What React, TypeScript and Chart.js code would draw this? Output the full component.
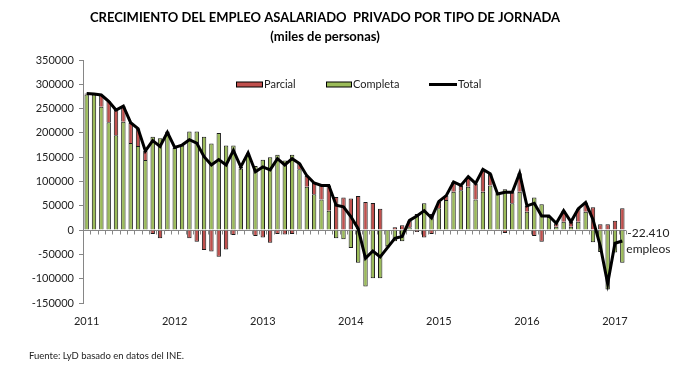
import React, { useEffect, useRef } from 'react';
import { Chart, registerables } from 'chart.js';

Chart.register(...registerables);

// Monthly categories, Jan 2011 – Feb 2017
const categories: string[] = [
  '2011-01','2011-02','2011-03','2011-04','2011-05','2011-06','2011-07','2011-08','2011-09','2011-10','2011-11','2011-12',
  '2012-01','2012-02','2012-03','2012-04','2012-05','2012-06','2012-07','2012-08','2012-09','2012-10','2012-11','2012-12',
  '2013-01','2013-02','2013-03','2013-04','2013-05','2013-06','2013-07','2013-08','2013-09','2013-10','2013-11','2013-12',
  '2014-01','2014-02','2014-03','2014-04','2014-05','2014-06','2014-07','2014-08','2014-09','2014-10','2014-11','2014-12',
  '2015-01','2015-02','2015-03','2015-04','2015-05','2015-06','2015-07','2015-08','2015-09','2015-10','2015-11','2015-12',
  '2016-01','2016-02','2016-03','2016-04','2016-05','2016-06','2016-07','2016-08','2016-09','2016-10','2016-11','2016-12',
  '2017-01','2017-02',
];

const parcial: number[] = [
  2000, 1000, 24000, 43000, 52000, 32000, 42000, 36000, 19000, -8000, -17000, -2000,
  1000, 1000, -17000, -24000, -41000, -44000, -55000, -40000, -10000, 3000, 1000, -12000,
  -15000, -26000, -8000, -9000, -8000, 12000, 23000, 23000, 29000, 52000, 68000, 67000,
  65000, 70000, 58000, 56000, 44000, -3000, 6000, 10000, 14000, -4000, -15000, -8000,
  14000, 9000, 20000, 10000, 21000, 33000, 46000, 24000, -1500, -6000, 23000, 38000,
  12000, -12000, -24000, 2000, 7000, 23000, 10000, 27000, 19000, 47000, 12000, 12000,
  19000, 45000,
];

const completa: number[] = [
  279000, 279000, 254000, 222000, 195000, 223000, 179000, 173000, 144000, 192000, 189000, 203000,
  169000, 174000, 203000, 203000, 192000, 178000, 200000, 174000, 174000, 127000, 158000, 132000,
  145000, 150000, 155000, 143000, 155000, 125000, 89000, 74000, 63000, 40000, -17000, -19000,
  -37000, -67000, -116000, -99000, -99000, -33000, -23000, -23000, 6000, 33000, 55000, 33000,
  45000, 62000, 79000, 82000, 89000, 63000, 79000, 92000, 76000, 84000, 55000, 79000,
  38000, 67000, 53000, 27000, 7000, 17000, 7000, 17000, 38000, -25000, -45000, -122000,
  -46000, -67410,
];

const total: number[] = [
  281000, 280000, 278000, 265000, 247000, 255000, 221000, 209000, 163000, 184000, 172000, 201000,
  170000, 175000, 186000, 179000, 151000, 134000, 145000, 134000, 164000, 130000, 159000, 120000,
  130000, 124000, 147000, 134000, 147000, 137000, 112000, 97000, 92000, 92000, 51000, 48000,
  28000, 3000, -58000, -43000, -55000, -36000, -17000, -13000, 20000, 29000, 40000, 25000,
  59000, 71000, 99000, 92000, 110000, 96000, 125000, 116000, 74500, 78000, 78000, 117000,
  50000, 55000, 29000, 29000, 14000, 40000, 17000, 44000, 57000, 22000, -33000, -110000,
  -27000, -22410,
];

const yTickMin = -150000;
const yTickMax = 350000;
const yTickStep = 50000;

const titleText = 'CRECIMIENTO DEL EMPLEO ASALARIADO  PRIVADO POR TIPO DE JORNADA';
const subtitleText = '(miles de personas)';
const sourceText = 'Fuente: LyD basado en datos del INE.';
const lastLabelLines = ['-22.410', 'empleos'];

const RED = '#C0504D';
const GREEN = '#9BBB59';
const AXIS = '#868686';
const TEXT = '#222222';
const FONT = 'Lato, "Liberation Sans", sans-serif';

const overlayPlugin = {
  id: 'overlay',
  beforeDatasetsDraw(chart: any) {
    const { ctx, chartArea, scales } = chart;
    const xs = scales.x;
    const ys = scales.y;
    const y0 = Math.round(ys.getPixelForValue(0)) + 0.5;
    const n = categories.length;
    const step = xs.getPixelForValue(1) - xs.getPixelForValue(0);
    ctx.save();
    ctx.strokeStyle = AXIS;
    ctx.lineWidth = 1;
    ctx.beginPath();
    ctx.moveTo(chartArea.left, y0);
    ctx.lineTo(chartArea.right, y0);
    for (let i = 0; i <= n; i++) {
      const px = Math.round(xs.getPixelForValue(0) - step / 2 + i * step) + 0.5;
      ctx.moveTo(px, y0);
      ctx.lineTo(px, y0 + 4);
    }
    ctx.stroke();
    ctx.restore();
  },
  afterDraw(chart: any) {
    const { ctx, scales } = chart;
    ctx.save();
    // Title
    ctx.fillStyle = '#000';
    ctx.textAlign = 'center';
    ctx.textBaseline = 'middle';
    ctx.font = `bold 13px ${FONT}`;
    ctx.fillText(titleText, 325, 18);
    ctx.fillText(subtitleText, 325, 37);

    // Legend
    ctx.font = `11px ${FONT}`;
    ctx.textAlign = 'left';
    const ly = 84.5;
    ctx.lineWidth = 1;
    ctx.strokeStyle = '#000';
    ctx.fillStyle = RED;
    ctx.fillRect(236.5, 82, 26, 5);
    ctx.strokeRect(236.5, 82, 26, 5);
    ctx.fillStyle = GREEN;
    ctx.fillRect(326.5, 82, 25, 5);
    ctx.strokeRect(326.5, 82, 25, 5);
    ctx.lineWidth = 3;
    ctx.beginPath();
    ctx.moveTo(429, ly);
    ctx.lineTo(457, ly);
    ctx.stroke();
    ctx.fillStyle = TEXT;
    ctx.fillText('Parcial', 264, ly);
    ctx.fillText('Completa', 353, ly);
    ctx.fillText('Total', 458, ly);

    // Annotation at last point
    const lastX = scales.x.getPixelForValue(categories.length - 1);
    const y0 = scales.y.getPixelForValue(0);
    ctx.font = `12px ${FONT}`;
    ctx.fillText(lastLabelLines[0], lastX + 5, y0 + 3);
    ctx.fillText(lastLabelLines[1], lastX + 4, y0 + 19);

    // Source
    ctx.font = `9.5px ${FONT}`;
    ctx.fillText(sourceText, 29, 356);
    ctx.restore();
  },
};

export default function App() {
  const ref = useRef<HTMLCanvasElement | null>(null);

  useEffect(() => {
    if (!ref.current) return;
    const chart = new Chart(ref.current, {
      type: 'bar',
      data: {
        labels: categories,
        datasets: [
          {
            type: 'line',
            label: 'Total',
            data: total,
            borderColor: '#000',
            backgroundColor: '#000',
            borderWidth: 3,
            pointRadius: 0,
            tension: 0,
            stack: 'total',
            order: 0,
          } as any,
          {
            label: 'Completa',
            data: completa,
            backgroundColor: GREEN,
            borderColor: '#1a1a1a',
            borderWidth: 1,
            stack: 'bars',
            order: 1,
            barPercentage: 0.6,
            categoryPercentage: 1,
          },
          {
            label: 'Parcial',
            data: parcial,
            backgroundColor: RED,
            borderColor: '#1a1a1a',
            borderWidth: 1,
            stack: 'bars',
            order: 1,
            barPercentage: 0.6,
            categoryPercentage: 1,
          },
        ],
      },
      options: {
        responsive: false,
        animation: false,
        devicePixelRatio: 1,
        layout: { padding: { top: 60, right: 55, bottom: 53, left: 0 } },
        plugins: {
          legend: { display: false },
          title: { display: false },
          tooltip: { enabled: false },
        },
        scales: {
          x: {
            stacked: true,
            offset: true,
            grid: { display: false },
            border: { display: false },
            ticks: {
              autoSkip: false,
              maxRotation: 0,
              minRotation: 0,
              padding: 4,
              color: TEXT,
              font: { family: FONT, size: 11 },
              callback: (_v: any, i: number) => {
                const c = categories[i];
                return c && c.endsWith('-01') ? c.slice(0, 4) : '';
              },
            },
            afterFit: (s: any) => {
              s.height = 25;
            },
          },
          y: {
            stacked: true,
            min: yTickMin,
            max: yTickMax,
            grid: {
              display: true,
              drawOnChartArea: false,
              drawTicks: true,
              tickLength: 4,
              color: AXIS,
            },
            border: { display: true, color: AXIS },
            ticks: {
              stepSize: yTickStep,
              padding: 5,
              color: TEXT,
              font: { family: FONT, size: 11 },
              callback: (v: any) => String(v),
            },
            afterFit: (s: any) => {
              s.width = 83;
            },
          },
        },
      },
      plugins: [overlayPlugin],
    });
    return () => chart.destroy();
  }, []);

  return (
    <div style={{ position: 'fixed', left: 0, top: 0, width: 681, height: 381, background: '#fff' }}>
      <canvas ref={ref} width={681} height={381} style={{ width: 681, height: 381 }} />
    </div>
  );
}
